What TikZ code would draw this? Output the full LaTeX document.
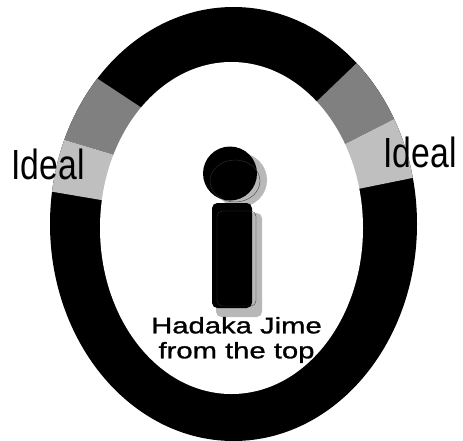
\documentclass[tikz,border=0pt]{standalone}
\usepackage{fontspec}
\setmainfont{Liberation Sans}
\newfontfamily\idealfont[FakeStretch=0.8]{Liberation Sans}
\newfontfamily\capfont[FakeStretch=1.3,FakeBold=1.2]{Liberation Sans}
\usetikzlibrary{positioning}

\begin{document}
\begin{tikzpicture}[x=0.02cm, y=-0.02cm]
    \tikzstyle{ideal} = [font=\idealfont\fontsize{24}{26}\selectfont, inner sep=0pt]
    \tikzstyle{caption} = [font=\capfont\fontsize{12.8}{14.2}\selectfont, align=center, inner sep=0pt]
    \tikzstyle{darkband} = [fill=black!50]
    \tikzstyle{lightband} = [fill=black!25]
    \tikzstyle{shadow} = [fill=black!28]
    \tikzstyle{rim} = [draw=black!78, line width=0.2pt]
    \useasboundingbox (0,0) rectangle (463,440);

    % Ring
    \fill[black] (233.5,224) ellipse [x radius=183.5, y radius=217];
    \begin{scope}
        \clip (233.5,224) ellipse [x radius=183.5, y radius=217];
        \fill[darkband] (92,75) -- (148,112) -- (125,158) -- (55,137) -- cycle;
        \fill[lightband] (55,137) -- (125,158) -- (113,202) -- (42,190) -- cycle;
        \fill[darkband] (362,58) -- (313,105) -- (341,146) -- (402,115) -- cycle;
        \fill[lightband] (402,115) -- (341,146) -- (353,190) -- (422,176) -- cycle;
    \end{scope}
    \fill[white] (231.5,228) ellipse [x radius=131.5, y radius=166];

    % Figure
    \fill[shadow] (240,180) circle [radius=27];
    \fill[shadow, rounded corners=3pt] (216,213) rectangle (262,317);
    \fill[black] (230,173.5) circle [radius=27];
    \fill[black, rounded corners=3pt] (212,203) rectangle (252,308);
    \draw[rim] (235,181) ellipse [x radius=25, y radius=21];
    \draw[rim, rounded corners=3pt] (217,211) rectangle (256,306);

    % Labels
    \node (ideal_left) [ideal] at (48,164) {Ideal};
    \node (ideal_right) [ideal] at (420,152) {Ideal};
    \node (hadaka) [caption] at (236.5,340) {Hadaka Jime\\from the top};
\end{tikzpicture}
\end{document}
